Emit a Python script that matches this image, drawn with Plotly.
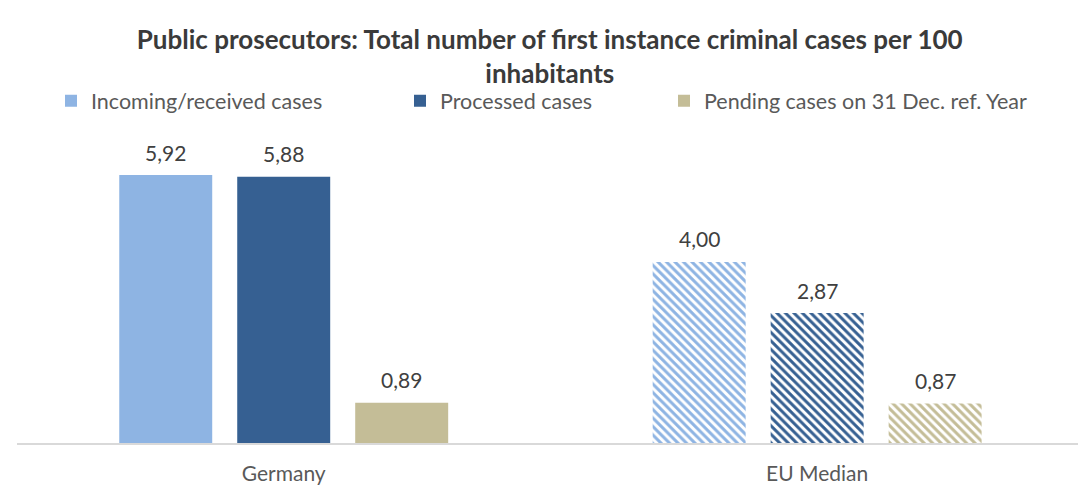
import plotly.graph_objects as go

categories = ["Germany", "EU Median"]
series_names = ["Incoming/received cases", "Processed cases", "Pending cases on 31 Dec. ref. Year"]
incoming = [5.92, 4.00]
processed = [5.88, 2.87]
pending = [0.89, 0.87]
series_values = [incoming, processed, pending]
colors = ["#8EB4E3", "#366092", "#C4BD97"]
title_text = "Public prosecutors: Total number of first instance criminal cases per 100<br>inhabitants"

FONT = "Lato"
fig = go.Figure()
legend_ids = ["legend", "legend2", "legend3"]
for i, (name, vals, col) in enumerate(zip(series_names, series_values, colors)):
    fig.add_trace(go.Bar(
        x=categories, y=vals, name=name,
        marker=dict(color=col, line=dict(width=0),
                    pattern=dict(shape=["", "\\"], fgcolor=col, bgcolor="white",
                                 fillmode="replace", size=6, solidity=0.5)),
        legend=legend_ids[i], showlegend=True,
        hoverinfo="skip",
    ))

offsets = [-118, 0, 118]
for i, vals in enumerate(series_values):
    for c, v in zip(categories, vals):
        fig.add_annotation(x=c, y=v, text=f"{v:.2f}".replace(".", ","),
                           xshift=offsets[i], yshift=23, showarrow=False,
                           font=dict(family=FONT, size=21, color="#404040"))

leg_common = dict(orientation="h", yanchor="middle", y=1.093, xanchor="left",
                  font=dict(family=FONT, size=21.5, color="#595959"),
                  bgcolor="rgba(0,0,0,0)", itemclick=False)
fig.update_layout(
    width=1078, height=485,
    paper_bgcolor="white", plot_bgcolor="white",
    margin=dict(l=17, r=0, t=130, b=42, autoexpand=False),
    showlegend=True,
    barmode="group", bargap=0.3365, bargroupgap=0.212,
    title=dict(text=title_text, x=0.51, xanchor="center", y=0.899, yanchor="middle",
               font=dict(family=FONT, size=26, color="#3A3A3A", weight="bold")),
    legend=dict(**leg_common, x=(34) / 1061),
    legend2=dict(**leg_common, x=(383) / 1061),
    legend3=dict(**leg_common, x=(647) / 1061),
    xaxis=dict(range=[-0.5, 1.489], showline=True, linecolor="#D9D9D9", linewidth=2,
               ticks="", ticklabelstandoff=11, showgrid=False, automargin=False,
               tickfont=dict(family=FONT, size=21, color="#595959")),
    yaxis=dict(range=[0, 6.914], visible=False, showgrid=False, zeroline=False,
               automargin=False),
)
fig.write_html("out.html", config={"displayModeBar": False},
               post_script="document.body.style.margin='0';")
